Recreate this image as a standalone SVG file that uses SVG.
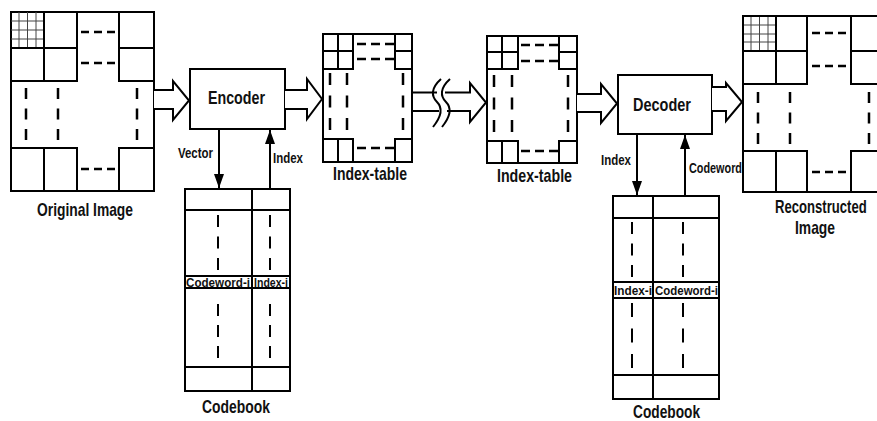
<svg xmlns="http://www.w3.org/2000/svg" width="877" height="421" viewBox="0 0 877 421">
<style>
.ln{fill:none;stroke:#000;stroke-width:2;stroke-linecap:square}
.fg{fill:none;stroke:#444;stroke-width:1}
.dh{fill:none;stroke:#000;stroke-width:2.5;stroke-dasharray:8 5}
.dhi{fill:none;stroke:#000;stroke-width:2.5;stroke-dasharray:9 5}
.dv{fill:none;stroke:#000;stroke-width:2.5;stroke-dasharray:11 9.5}
.dt{fill:none;stroke:#000;stroke-width:2.5;stroke-dasharray:12 10.5}
.dc{fill:none;stroke:#000;stroke-width:2}
.ha{fill:#fff;stroke:#000;stroke-width:2;stroke-linejoin:miter}
text{font-family:"Liberation Sans Narrow","Liberation Sans",Arial,sans-serif;font-weight:bold;fill:#111}
.big{font-size:19px}
.mid{font-size:18px}
.sm{font-size:14px}
.xs{font-size:12px}
</style>
<defs>
<marker id="ah" viewBox="0 0 14 10" refX="14" refY="5" markerWidth="14" markerHeight="10" markerUnits="userSpaceOnUse" orient="auto">
<path d="M0,0 L14,5 L0,10 z" fill="#000"/>
</marker>
</defs>
<rect width="877" height="421" fill="#fff"/>

<g id="original-image">
<rect class="ln" x="11" y="12" width="143" height="179"/>
<path class="fg" d="M19,12V48M27.5,12V48M36,12V48M11,21H44M11,30H44M11,39H44"/>
<path class="ln" d="M44,12V81M77,12V81M119,12V81M44,148V191M77,148V191M119,148V191M11,48H77M119,48H154M11,81H77M119,81H154M11,148H77M119,148H154"/>
<path class="dh" d="M81,32H115M81,63H115M81,169H115"/>
<path class="dv" d="M26,88V140M58,88V140M137,88V140"/>
<text class="big" x="37" y="216" textLength="96" lengthAdjust="spacingAndGlyphs">Original Image</text>
</g>

<g id="encoder">
<rect class="ln" x="190" y="69" width="95" height="60"/>
<text class="big" x="208" y="104" textLength="57" lengthAdjust="spacingAndGlyphs">Encoder</text>
</g>

<g id="index-table-1">
<rect class="ln" x="323" y="34" width="89" height="128"/>
<path class="ln" d="M338,34V69M353,34V69M395,34V69M338,139V162M353,139V162M395,139V162M323,51H353M395,51H412M323,69H353M395,69H412M323,139H353M395,139H412"/>
<path class="dhi" d="M357,44H394M357,59H394M357,148H394"/>
<path class="dt" d="M330,73V130M347,73V130M403,73V130"/>
<text class="big" x="333" y="180" textLength="74" lengthAdjust="spacingAndGlyphs">Index-table</text>
</g>

<g id="index-table-2">
<rect class="ln" x="487" y="36" width="90" height="127"/>
<path class="ln" d="M502,36V69M518,36V69M559,36V69M502,141V163M518,141V163M559,141V163M487,52H518M559,52H577M487,69H518M559,69H577M487,141H518M559,141H577"/>
<path class="dhi" d="M521,45H558M521,61H558M521,151H558"/>
<path class="dt" d="M494,75V132M512,75V132M568,75V132"/>
<text class="big" x="497" y="182" textLength="75" lengthAdjust="spacingAndGlyphs">Index-table</text>
</g>

<g id="decoder">
<rect class="ln" x="618" y="75" width="94" height="59"/>
<text class="big" x="633" y="111" textLength="58" lengthAdjust="spacingAndGlyphs">Decoder</text>
</g>

<g id="reconstructed-image">
<path class="fg" d="M751,16V51M759.5,16V51M768,16V51M743,25H776M743,34H776M743,42H776"/>
<path class="ln" d="M886,16H743V192H886"/>
<path class="ln" d="M776,16V84M807,16V84M851,16V84M776,151V192M807,151V192M851,151V192M743,51H807M851,51H886M743,84H807M851,84H886M743,151H807M851,151H886"/>
<path class="dh" d="M812,33H846M812,66H846M812,172H846"/>
<path class="dv" d="M758,92V144M790,92V144M869,92V144"/>
<text class="big" transform="translate(775,213) scale(0.69,1)">Reconstructed</text>
<text class="big" x="795" y="234" textLength="40" lengthAdjust="spacingAndGlyphs">Image</text>
</g>

<g id="codebook-1">
<rect class="ln" x="185" y="189" width="105" height="202"/>
<path class="ln" d="M252,189V391M185,210H290M185,276H290M185,288H290M185,367H290"/>
<path class="dc" stroke-dasharray="12 9.5" d="M218,215V270M270,215V270"/>
<path class="dc" stroke-dasharray="12 9" d="M218,304V358M270,304V358"/>
<text class="xs" x="186" y="286.5" textLength="64" lengthAdjust="spacingAndGlyphs">Codeword-i</text>
<text class="xs" x="254" y="286.5" textLength="34" lengthAdjust="spacingAndGlyphs">Index-i</text>
<text class="mid" x="202" y="413" textLength="68" lengthAdjust="spacingAndGlyphs">Codebook</text>
</g>

<g id="codebook-2">
<rect class="ln" x="613" y="196" width="106" height="203"/>
<path class="ln" d="M653,196V399M613,218H719M613,282H719M613,298H719M613,375H719"/>
<path class="dc" stroke-dasharray="12 9.5" d="M632,222V277M683,222V277"/>
<path class="dc" stroke-dasharray="14 11.5" d="M632,303V368M683,303V368"/>
<text class="xs" x="614" y="294.5" textLength="38" lengthAdjust="spacingAndGlyphs">Index-i</text>
<text class="xs" x="655" y="294.5" textLength="63" lengthAdjust="spacingAndGlyphs">Codeword-i</text>
<text class="mid" x="633" y="418" textLength="67" lengthAdjust="spacingAndGlyphs">Codebook</text>
</g>

<g id="connectors">
<path class="ha" d="M154,90H173V81L189,100.5L173,120V109H154"/>
<path class="ha" d="M285,90H307V79L322,99L307,119V109H285"/>
<path class="ha" d="M577,94H601V84L617,103.5L601,123V112H577"/>
<path class="ha" d="M712,87H726V83L742,102L726,121V111H712"/>
<path class="ln" d="M412,92.5H436M412,111H438"/>
<path class="ha" d="M445,92.5H470V83L486,102.5L470,122V111H447" fill="none"/>
<path d="M441,79C431,88 431,96 437,102C443,108 441,117 433,127" fill="none" stroke="#000" stroke-width="2"/>
<path d="M450,79C440,88 440,96 446,102C452,108 450,117 442,127" fill="none" stroke="#000" stroke-width="2"/>
<line x1="219" y1="129" x2="219" y2="188" stroke="#000" stroke-width="2" marker-end="url(#ah)"/>
<line x1="270" y1="189" x2="270" y2="130" stroke="#000" stroke-width="2" marker-end="url(#ah)"/>
<line x1="637" y1="134" x2="637" y2="195" stroke="#000" stroke-width="2" marker-end="url(#ah)"/>
<line x1="685" y1="196" x2="685" y2="135" stroke="#000" stroke-width="2" marker-end="url(#ah)"/>
<text class="sm" x="178" y="158" textLength="35" lengthAdjust="spacingAndGlyphs">Vector</text>
<text class="sm" x="273" y="163" textLength="30" lengthAdjust="spacingAndGlyphs">Index</text>
<text class="sm" x="601" y="165" textLength="30" lengthAdjust="spacingAndGlyphs">Index</text>
<text class="sm" x="689" y="173" textLength="53" lengthAdjust="spacingAndGlyphs">Codeword</text>
</g>
</svg>
